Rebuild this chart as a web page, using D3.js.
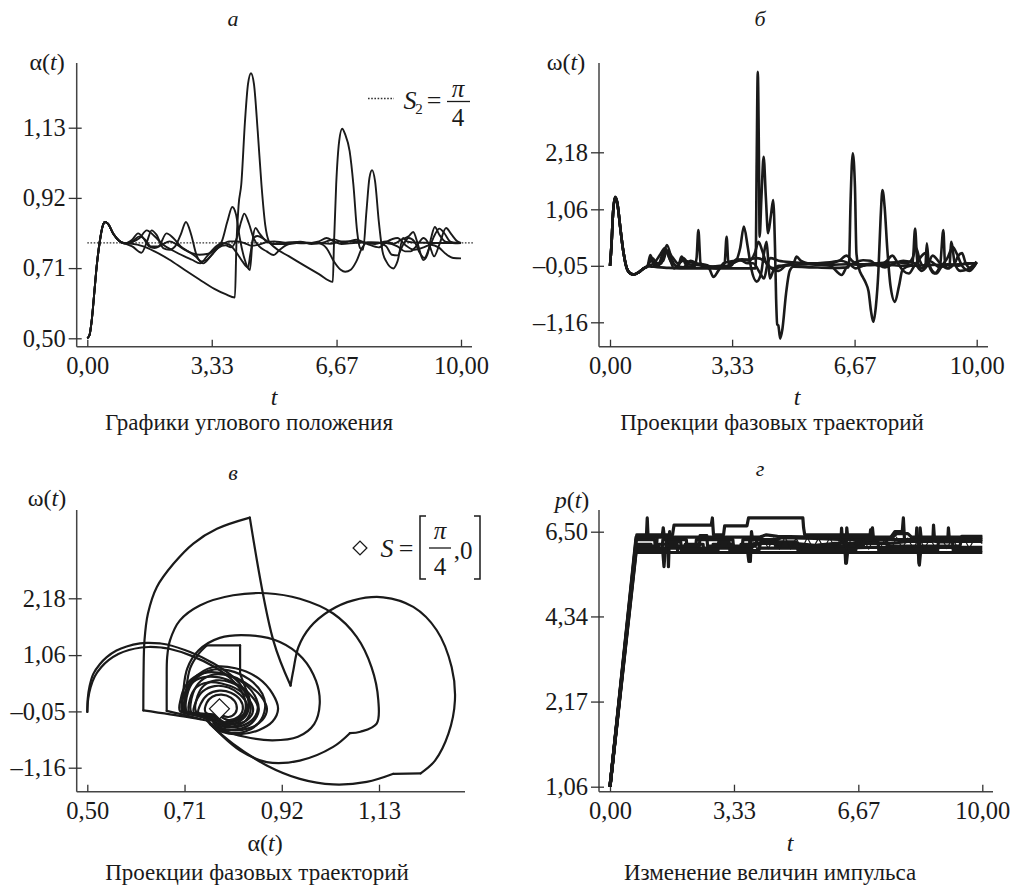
<!DOCTYPE html>
<html><head><meta charset="utf-8">
<script src="https://cdn.jsdelivr.net/npm/d3@7"></script>
<style>
body{margin:0;background:#fff}
svg{display:block}
text{font-family:"Liberation Serif","Times New Roman",serif;fill:#1a1a1a}
</style>
</head><body>
<svg id="chart" width="1015" height="886"></svg>
<script>
// ---------------- DATA ----------------
const timeTicks = [0, 3.33, 6.67, 10];
const timeTickLabels = ["0,00", "3,33", "6,67", "10,00"];
const alphaTicks = [0.50, 0.71, 0.92, 1.13];
const alphaTickLabels = ["0,50", "0,71", "0,92", "1,13"];
const omegaTicks = [-1.16, -0.05, 1.06, 2.18];
const omegaTickLabels = ["–1,16", "–0,05", "1,06", "2,18"];
const pTicks = [0, 2.17, 4.34, 6.50];
const pTickLabels = ["1,06", "2,17", "4,34", "6,50"];
const targetAlpha = Math.PI / 4;
const targetOmega = 0;

// panel а: alpha(t), common start + 5 tails
const alphaStart = [[0,0.5],[0.06,0.51],[0.12,0.555],[0.19,0.64],[0.25,0.714],[0.34,0.794],[0.41,0.835],[0.47,0.848],[0.55,0.843],[0.7,0.812],[0.85,0.792],[1.0,0.784]];
const alphaTail1 = [[1.2,0.783],[1.5,0.775],[1.8,0.76],[2.2,0.735],[2.6,0.705],[3.0,0.676],[3.4,0.648],[3.7,0.632],[3.95,0.622],[3.99,0.78],[4.05,0.90],[4.12,0.96],[4.22,1.15],[4.3,1.26],[4.38,1.293],[4.46,1.26],[4.56,1.12],[4.66,0.96],[4.76,0.84],[4.86,0.79],[5.0,0.773],[5.4,0.745],[5.8,0.718],[6.2,0.692],[6.57,0.669],[6.6,0.78],[6.66,0.96],[6.74,1.09],[6.82,1.127],[6.9,1.11],[7.02,1.06],[7.12,0.96],[7.22,0.82],[7.3,0.77],[7.38,0.765],[7.47,0.88],[7.55,0.98],[7.62,1.003],[7.7,0.97],[7.8,0.85],[7.9,0.76],[8.0,0.73],[8.19,0.709],[8.3,0.73],[8.45,0.80],[8.55,0.79],[8.7,0.787],[9.0,0.786],[9.5,0.785],[10,0.785]];
const alphaTail2 = [[1.2,0.795],[1.36,0.814],[1.5,0.8],[1.65,0.775],[1.8,0.77],[2.0,0.78],[2.2,0.79],[2.4,0.78],[2.6,0.765],[2.8,0.755],[3.0,0.75],[3.2,0.752],[3.4,0.765],[3.6,0.79],[3.75,0.85],[3.88,0.893],[3.98,0.87],[4.08,0.80],[4.2,0.74],[4.35,0.704],[4.42,0.79],[4.5,0.83],[4.6,0.815],[4.8,0.79],[5.0,0.783],[5.4,0.786],[5.8,0.784],[6.2,0.79],[6.4,0.80],[6.6,0.79],[6.8,0.782],[7.2,0.786],[7.6,0.787],[8.0,0.785],[8.3,0.775],[8.5,0.76],[8.65,0.76],[8.8,0.775],[9.0,0.80],[9.15,0.78],[9.28,0.745],[9.42,0.78],[9.6,0.83],[9.75,0.81],[9.9,0.79],[10,0.785]];
const alphaTail3 = [[1.2,0.775],[1.45,0.756],[1.6,0.79],[1.72,0.823],[1.85,0.81],[2.03,0.77],[2.2,0.765],[2.35,0.775],[2.5,0.81],[2.64,0.848],[2.78,0.81],[2.92,0.75],[3.1,0.724],[3.3,0.745],[3.5,0.77],[3.7,0.778],[3.85,0.772],[4.0,0.80],[4.12,0.85],[4.2,0.873],[4.32,0.845],[4.45,0.80],[4.6,0.775],[4.8,0.76],[4.98,0.749],[5.15,0.765],[5.4,0.782],[5.8,0.786],[6.2,0.784],[6.4,0.77],[6.6,0.73],[6.78,0.705],[6.9,0.699],[7.05,0.705],[7.2,0.73],[7.35,0.77],[7.5,0.787],[7.8,0.786],[8.0,0.775],[8.15,0.75],[8.3,0.748],[8.45,0.78],[8.6,0.80],[8.75,0.79],[8.9,0.755],[9.02,0.74],[9.15,0.77],[9.3,0.81],[9.42,0.828],[9.55,0.815],[9.7,0.79],[9.85,0.784],[10,0.785]];
const alphaTail4 = [[1.2,0.79],[1.4,0.805],[1.55,0.795],[1.7,0.775],[1.9,0.775],[2.12,0.814],[2.3,0.80],[2.5,0.775],[2.7,0.76],[2.9,0.745],[3.05,0.73],[3.2,0.735],[3.4,0.76],[3.6,0.78],[3.8,0.79],[4.0,0.79],[4.2,0.785],[4.4,0.777],[4.6,0.78],[4.8,0.788],[5.0,0.79],[5.3,0.786],[5.7,0.789],[6.0,0.782],[6.3,0.786],[6.6,0.796],[6.85,0.787],[7.0,0.79],[7.2,0.795],[7.5,0.782],[7.8,0.772],[8.0,0.788],[8.3,0.80],[8.5,0.78],[8.75,0.765],[9.0,0.772],[9.2,0.78],[9.4,0.772],[9.6,0.752],[9.8,0.74],[10,0.739]];
const alphaTail5 = [[1.2,0.788],[1.4,0.8],[1.59,0.823],[1.8,0.805],[2.03,0.78],[2.3,0.762],[2.6,0.745],[2.8,0.735],[3.02,0.724],[3.2,0.745],[3.45,0.775],[3.6,0.785],[3.8,0.78],[4.0,0.755],[4.15,0.73],[4.3,0.712],[4.36,0.75],[4.45,0.80],[4.55,0.806],[4.75,0.795],[4.95,0.782],[5.3,0.782],[5.6,0.787],[6.2,0.785],[6.5,0.783],[6.8,0.79],[7.1,0.79],[7.4,0.787],[7.7,0.782],[8.0,0.79],[8.2,0.783],[8.4,0.795],[8.6,0.805],[8.72,0.818],[8.85,0.78],[8.99,0.734],[9.1,0.75],[9.2,0.80],[9.3,0.833],[9.42,0.81],[9.6,0.788],[10,0.785]];

// panel б: omega(t)
const omegaStart = [[0,-0.05],[0.04,0.35],[0.08,0.95],[0.14,1.30],[0.2,1.18],[0.28,0.7],[0.36,0.25],[0.45,-0.08],[0.55,-0.2],[0.64,-0.22],[0.78,-0.18],[0.92,-0.1],[1.02,-0.06]];
const omegaTail1 = [[1.2,-0.07],[1.6,-0.09],[2.2,-0.1],[3.0,-0.1],[3.9,-0.1],[3.97,-0.1],[4.0,2.0],[4.03,3.76],[4.06,2.2],[4.08,0.52],[4.13,1.3],[4.19,2.09],[4.25,1.3],[4.31,0.59],[4.39,0.95],[4.45,1.24],[4.5,0.3],[4.53,-0.7],[4.56,-1.2],[4.59,-1.22],[4.64,-1.48],[4.7,-1.3],[4.8,-0.6],[4.9,-0.15],[5.0,-0.07],[5.5,-0.08],[6.0,-0.09],[6.5,-0.08],[6.52,0.0],[6.56,1.2],[6.62,2.16],[6.68,1.5],[6.72,0.2],[6.78,-0.08],[6.9,-0.28],[6.97,-0.38],[7.05,-0.55],[7.12,-0.95],[7.18,-1.15],[7.25,-0.85],[7.32,-0.15],[7.38,0.9],[7.43,1.44],[7.49,1.1],[7.56,0.3],[7.65,-0.45],[7.77,-0.76],[7.88,-0.45],[7.98,-0.12],[8.2,-0.05],[8.6,-0.04],[9.0,-0.03],[9.5,-0.02],[10,0.0]];
const omegaTail2 = [[1.1,0.16],[1.22,-0.06],[1.4,0.0],[1.55,0.36],[1.7,0.05],[1.85,-0.08],[1.95,0.13],[2.1,-0.06],[2.3,-0.07],[2.36,0.1],[2.41,0.65],[2.47,0.0],[2.6,-0.07],[3.0,-0.05],[3.12,-0.04],[3.18,0.52],[3.23,0.0],[3.4,0.02],[3.55,0.3],[3.65,0.72],[3.75,0.35],[3.85,-0.1],[4.0,-0.36],[4.12,-0.2],[4.2,0.2],[4.27,0.42],[4.32,0.0],[4.36,-0.3],[4.45,-0.15],[4.6,-0.05],[5.0,-0.03],[5.5,-0.02],[6.0,-0.03],[6.5,-0.02],[7.0,-0.04],[7.5,-0.03],[8.0,-0.05],[8.25,-0.02],[8.32,0.68],[8.38,0.05],[8.5,-0.1],[8.6,-0.05],[8.64,0.39],[8.7,-0.05],[8.85,-0.2],[9.0,-0.05],[9.09,0.65],[9.14,-0.05],[9.25,-0.1],[9.31,0.42],[9.4,0.0],[9.55,-0.15],[9.75,-0.12],[10,0.03]];
const omegaTail3 = [[1.1,0.05],[1.3,-0.05],[1.5,0.28],[1.62,0.1],[1.75,-0.1],[1.9,0.0],[2.0,0.1],[2.15,-0.02],[2.5,-0.05],[2.7,-0.1],[2.82,-0.27],[2.95,-0.15],[3.1,0.0],[3.4,0.05],[3.6,0.08],[3.8,0.05],[3.95,0.2],[4.05,0.42],[4.15,0.25],[4.3,-0.05],[4.5,-0.1],[4.8,-0.03],[5.0,0.0],[5.09,0.13],[5.2,0.05],[5.5,-0.02],[6.0,-0.05],[6.32,-0.23],[6.45,-0.08],[6.7,0.02],[6.9,0.06],[7.1,0.05],[7.3,-0.05],[7.55,0.05],[7.7,0.15],[7.85,0.0],[8.0,-0.15],[8.15,-0.2],[8.3,-0.05],[8.45,0.1],[8.6,0.2],[8.75,-0.1],[8.9,-0.2],[9.05,-0.05],[9.2,0.1],[9.35,0.32],[9.45,0.2],[9.6,-0.05],[9.8,-0.15],[10,0.02]];
const omegaTail4 = [[1.15,0.1],[1.3,0.0],[1.45,0.05],[1.55,0.25],[1.7,0.12],[1.85,0.0],[2.0,0.05],[2.3,0.0],[2.6,-0.03],[2.9,-0.1],[3.2,-0.05],[3.5,0.05],[3.8,0.08],[4.0,0.1],[4.2,0.05],[4.4,-0.1],[4.6,-0.15],[4.8,-0.05],[5.2,-0.02],[5.6,0.0],[6.0,0.02],[6.3,0.05],[6.5,0.0],[6.7,-0.1],[6.9,-0.05],[7.2,0.0],[7.5,-0.08],[7.75,0.0],[8.0,0.05],[8.3,0.0],[8.5,-0.15],[8.65,-0.05],[8.8,0.15],[9.0,0.0],[9.2,-0.1],[9.4,0.0],[9.5,0.15],[9.6,0.2],[9.7,0.0],[9.85,-0.1],[10,0.02]];
const omegaTail5 = [[1.2,0.0],[1.35,0.15],[1.5,0.3],[1.65,0.05],[1.8,-0.05],[2.0,-0.08],[2.2,0.05],[2.4,-0.02],[2.7,-0.06],[3.0,-0.08],[3.3,-0.05],[3.45,0.08],[3.6,0.05],[3.75,0.0],[3.9,0.0],[4.1,-0.2],[4.2,-0.3],[4.3,0.0],[4.38,0.1],[4.6,0.05],[5.0,0.02],[5.5,0.0],[6.0,0.0],[6.25,0.05],[6.45,0.15],[6.6,0.05],[6.8,-0.02],[7.3,0.0],[7.8,0.02],[8.1,0.0],[8.25,0.1],[8.35,0.3],[8.45,0.05],[8.55,-0.05],[8.7,0.05],[9.0,-0.08],[9.2,-0.02],[9.5,-0.05],[9.7,0.0],[10,0.0]];

// panel в: phase trajectories (alpha, omega); each trajectory is a list of smooth pieces
const phaseStart1 = [[[0.5,-0.06],[0.501,0.2],[0.505,0.45],[0.513,0.69],[0.527,0.88],[0.542,1.02],[0.563,1.15],[0.585,1.23],[0.614,1.29],[0.628,1.30],[0.657,1.29],[0.672,1.27],[0.722,1.12],[0.772,0.90],[0.815,0.63],[0.837,0.40],[0.848,0.15],[0.846,-0.08],[0.83,-0.24],[0.80,-0.32],[0.775,-0.26],[0.762,-0.12]]];
const phaseStart2 = [[[0.5,-0.06],[0.502,0.2],[0.507,0.42],[0.516,0.64],[0.53,0.82],[0.546,0.96],[0.567,1.08],[0.59,1.16],[0.617,1.21],[0.632,1.22],[0.66,1.21],[0.675,1.19],[0.724,1.05],[0.772,0.84],[0.812,0.58],[0.832,0.36],[0.842,0.12],[0.838,-0.1],[0.822,-0.22],[0.795,-0.28],[0.775,-0.22]]];
const phaseLoopA = [
  [[0.758,-0.23],[0.715,-0.16],[0.621,-0.03]],
  [[0.621,-0.03],[0.6215,0.69],[0.6235,1.35],[0.631,1.88],[0.65,2.40],[0.686,2.86],[0.729,3.26],[0.78,3.55],[0.851,3.77]],
  [[0.851,3.77],[0.9017,1.35],[0.939,0.46]],
  [[0.939,0.46],[0.945,0.76],[0.956,1.22],[0.981,1.61],[1.024,1.94],[1.0745,2.14],[1.139,2.20],[1.204,2.01],[1.2547,1.55],[1.287,0.82],[1.294,0.17],[1.28,-0.49],[1.251,-1.02],[1.22,-1.27]],
  [[1.22,-1.27],[1.161,-1.28]],
  [[1.161,-1.28],[1.1035,-1.44],[1.031,-1.49],[0.959,-1.38],[0.8875,-1.115],[0.815,-0.69],[0.772,-0.36],[0.758,-0.23]]
];
const phaseLoopB = [
  [[0.745,-0.2],[0.70,-0.1],[0.6715,-0.04]],
  [[0.6715,-0.04],[0.6715,0.5],[0.6725,1.02],[0.6786,1.35],[0.700,1.745],[0.743,2.04],[0.815,2.24],[0.8875,2.28],[0.959,2.17],[1.031,1.88],[1.0818,1.42],[1.114,0.82],[1.1285,0.17],[1.125,-0.29],[1.09,-0.45],[1.067,-0.48]],
  [[1.067,-0.48],[1.031,-0.75],[0.959,-1.02],[0.8875,-1.05],[0.83,-0.82],[0.7866,-0.49],[0.765,-0.29]]
];
const phaseLoopC = [[[0.76,-0.2],[0.73,-0.1],[0.707,-0.04],[0.708,0.4],[0.716,0.8],[0.74,1.15],[0.786,1.40],[0.851,1.45],[0.916,1.32],[0.965,1.0],[0.994,0.55],[1.002,0.1],[0.99,-0.3],[0.955,-0.55],[0.9,-0.62],[0.84,-0.55],[0.795,-0.42],[0.772,-0.28]]];
const phaseLoopBox = [
  [[0.77,-0.18],[0.74,-0.1],[0.712,-0.05],[0.714,0.4],[0.722,0.8],[0.74,1.08],[0.758,1.25]],
  [[0.758,1.25],[0.83,1.25]],
  [[0.83,1.25],[0.83,0.69]],
  [[0.83,0.69],[0.84,0.45],[0.85,0.2],[0.845,-0.05],[0.825,-0.2],[0.8,-0.25]]
];
const phaseLoopD = [[[0.77,-0.2],[0.73,-0.1],[0.705,-0.05],[0.71,0.3],[0.73,0.6],[0.77,0.82],[0.82,0.8],[0.87,0.6],[0.9,0.3],[0.912,0.0],[0.9,-0.25],[0.87,-0.42],[0.83,-0.5],[0.79,-0.45],[0.765,-0.3]]];
const phaseSmall1 = [[[0.77,-0.2],[0.73,-0.12],[0.70,-0.04],[0.702,0.2],[0.71,0.42],[0.73,0.62],[0.76,0.72],[0.80,0.68],[0.84,0.52],[0.875,0.25],[0.888,0.0],[0.878,-0.22],[0.85,-0.38],[0.81,-0.42],[0.775,-0.35],[0.76,-0.22]]];
const phaseSmall2 = [[[0.77,-0.18],[0.735,-0.1],[0.71,-0.05],[0.712,0.25],[0.725,0.5],[0.75,0.62],[0.785,0.62],[0.82,0.5],[0.85,0.3],[0.868,0.05],[0.86,-0.18],[0.835,-0.33],[0.80,-0.36],[0.775,-0.28],[0.765,-0.15]]];
const phaseSmall3 = [[[0.775,-0.16],[0.74,-0.1],[0.72,-0.06],[0.722,0.2],[0.735,0.42],[0.76,0.52],[0.79,0.5],[0.825,0.38],[0.85,0.18],[0.858,-0.04],[0.845,-0.22],[0.815,-0.3],[0.79,-0.27],[0.775,-0.15]]];
const phaseSmall4 = [[[0.78,-0.15],[0.75,-0.1],[0.73,-0.07],[0.735,0.15],[0.75,0.35],[0.775,0.45],[0.805,0.42],[0.83,0.28],[0.845,0.08],[0.84,-0.12],[0.82,-0.25],[0.795,-0.26],[0.78,-0.15]]];
const phaseSmall5 = [[[0.785,-0.12],[0.76,-0.1],[0.74,-0.08],[0.745,0.1],[0.76,0.28],[0.785,0.36],[0.81,0.32],[0.83,0.18],[0.836,0.0],[0.826,-0.16],[0.805,-0.22],[0.788,-0.15]]];
const phaseSmall6 = [[[0.78,-0.22],[0.75,-0.15],[0.725,-0.08],[0.728,0.3],[0.745,0.55],[0.775,0.68],[0.81,0.64],[0.845,0.45],[0.865,0.2],[0.87,-0.05],[0.855,-0.28],[0.825,-0.4],[0.79,-0.38],[0.772,-0.25]]];
const phaseSmall7 = [[[0.79,-0.1],[0.77,-0.12],[0.755,-0.06],[0.758,0.12],[0.77,0.24],[0.79,0.28],[0.81,0.22],[0.822,0.08],[0.82,-0.08],[0.805,-0.16],[0.79,-0.12]]];
const phaseSmall8 = [[[0.775,-0.25],[0.74,-0.14],[0.715,-0.06],[0.718,0.35],[0.735,0.6],[0.765,0.76],[0.805,0.76],[0.85,0.58],[0.878,0.3],[0.884,0.02],[0.87,-0.28],[0.84,-0.45],[0.8,-0.46],[0.772,-0.33]]];
const phaseSmall9 = [[[0.78,-0.2],[0.76,-0.12],[0.735,-0.06],[0.738,0.25],[0.752,0.46],[0.778,0.56],[0.81,0.52],[0.838,0.36],[0.852,0.12],[0.85,-0.12],[0.832,-0.3],[0.8,-0.34],[0.78,-0.22]]];

// panel г: p(t)
const pSeries1 = [[0,0],[0.72,6.42],[0.98,6.42],[1.0,6.85],[1.02,6.42],[1.68,6.42],[1.72,6.67],[2.72,6.67],[2.75,6.85],[2.78,6.42],[3.05,6.42],[3.08,6.65],[3.68,6.65],[3.72,6.85],[5.18,6.85],[5.2,6.6],[5.23,6.42],[7.0,6.42],[7.05,6.6],[7.08,6.3],[7.5,6.3],[7.65,6.5],[7.85,6.5],[7.88,6.85],[7.91,6.3],[8.5,6.3],[10,6.3]];
const pSeries2 = [[0,0],[0.7,6.3],[1.2,6.3],[1.22,6.05],[1.4,6.05],[1.42,6.3],[1.55,6.3],[1.57,5.61],[1.6,6.5],[1.63,6.3],[2.05,6.3],[2.07,6.05],[2.3,6.05],[2.32,6.3],[3.3,6.3],[3.32,6.05],[3.55,6.05],[3.57,6.3],[3.75,6.3],[3.77,5.74],[3.8,6.5],[3.83,6.3],[4.5,6.3],[4.6,6.35],[5.5,6.33],[6.3,6.3],[6.33,5.7],[6.36,6.6],[6.39,6.3],[8.27,6.3],[8.3,5.7],[8.33,6.6],[8.36,6.3],[10,6.3]];
const pSeries3 = [[0,0],[0.7,6.18],[1.1,6.18],[1.12,5.97],[1.3,5.97],[1.32,6.18],[1.8,6.18],[1.82,5.97],[2.0,5.97],[2.02,6.18],[2.5,6.18],[2.52,5.97],[2.75,5.97],[2.77,6.18],[3.3,6.18],[3.32,5.97],[3.5,5.97],[3.52,6.18],[4.0,6.18],[4.02,6.08],[6.0,6.08],[7.0,6.1],[9.0,6.1],[10,6.1]];
const pSeries4 = [[0,0],[0.7,5.97],[1.42,5.97],[1.45,5.61],[1.48,5.97],[3.7,5.97],[3.73,5.74],[3.76,5.97],[6.32,5.97],[6.35,5.7],[6.38,5.97],[8.28,5.97],[8.31,5.65],[8.34,5.97],[10,5.97]];
const pSeries5 = [[0,0],[0.7,6.08],[2.0,6.08],[3.8,6.08],[3.9,6.2],[5.0,6.2],[5.5,6.15],[6.0,6.2],[6.2,6.2],[6.22,6.59],[6.25,6.2],[7.5,6.2],[8.0,6.25],[8.22,6.25],[8.24,6.6],[8.27,6.25],[8.67,6.25],[8.69,6.67],[8.72,6.25],[9.07,6.25],[9.09,6.6],[9.12,6.25],[10,6.25]];
const pSeries6 = [[0,0],[0.7,6.36],[1.4,6.36],[1.43,6.6],[1.46,6.36],[2.0,6.36],[4.0,6.36],[4.2,6.42],[4.5,6.38],[5.5,6.36],[6.5,6.36],[6.98,6.36],[7.0,6.55],[7.03,6.36],[7.6,6.36],[7.7,6.45],[8.0,6.45],[8.1,6.36],[10,6.36]];
const pSeries7 = [[0,0],[0.7,6.02],[1.5,6.02],[1.52,6.24],[1.9,6.24],[1.92,6.02],[2.9,6.02],[2.92,6.24],[3.2,6.24],[3.22,6.02],[4.0,6.02],[4.05,6.24],[5.0,6.24],[5.05,6.02],[6.6,6.02],[6.62,6.24],[7.2,6.24],[7.22,6.02],[8.8,6.02],[8.82,6.24],[9.2,6.24],[9.22,6.02],[10,6.02]];
const pSeries8 = [[0,0],[0.7,6.13],[1.25,6.13],[1.27,6.4],[1.5,6.4],[1.52,6.13],[2.4,6.13],[2.42,6.4],[2.6,6.4],[2.62,6.13],[3.9,6.13],[3.95,6.3],[4.4,6.3],[4.45,6.13],[6.8,6.13],[6.85,6.3],[7.4,6.3],[7.45,6.13],[9.4,6.13],[9.45,6.38],[10,6.38]];
const pHatch = [[3.85,6.25],[3.95,6.05],[4.1,6.35],[4.25,6.08],[4.4,6.33],[4.55,6.06],[4.7,6.36],[4.85,6.07],[5.0,6.34],[5.15,6.05],[5.3,6.35],[5.45,6.08],[5.6,6.33],[5.75,6.06],[5.9,6.35],[6.05,6.07],[6.2,6.34],[6.35,6.05],[6.5,6.36],[6.65,6.08],[6.8,6.33],[6.95,6.06],[7.1,6.35],[7.25,6.07],[7.4,6.34],[7.55,6.05],[7.7,6.35],[7.85,6.08],[8.0,6.33],[8.15,6.06],[8.3,6.36],[8.45,6.07],[8.6,6.34],[8.75,6.05],[8.9,6.35],[9.05,6.08],[9.2,6.33],[9.35,6.06],[9.5,6.35],[9.65,6.07],[9.8,6.34],[10,6.2]];

// ---------------- DRAW ----------------
const svg = d3.select("#chart");
const FONT = "Liberation Serif, Times New Roman, serif";
const INK = "#1a1a1a";
const TICK_FS = 24.5;

function drawAxes(x, y, c) {
  svg.append("line").attr("x1", c.axX).attr("x2", c.axX).attr("y1", c.axY).attr("y2", c.yTop)
    .attr("stroke", "#444").attr("stroke-width", 1.5);
  svg.append("line").attr("x1", c.axX).attr("x2", c.xEnd).attr("y1", c.axY).attr("y2", c.axY)
    .attr("stroke", "#444").attr("stroke-width", 1.5);
  const ya = d3.axisLeft(y).tickValues(c.yTicks).tickFormat((d, i) => c.yLabels[i])
    .tickSizeInner(8).tickSizeOuter(0).tickPadding(3);
  const gy = svg.append("g").attr("transform", `translate(${c.axX},0)`).call(ya);
  gy.select(".domain").remove();
  gy.attr("font-size", TICK_FS).attr("font-family", FONT).attr("color", "#333");
  gy.selectAll(".tick line").attr("x1", 5).attr("stroke-width", 1.3);
  gy.selectAll(".tick text").attr("fill", INK).style("font-size", TICK_FS + "px");
  const xa = d3.axisBottom(x).tickValues(c.xTicks).tickFormat((d, i) => c.xLabels[i])
    .tickSizeInner(-7).tickSizeOuter(0).tickPadding(10);
  const gx = svg.append("g").attr("transform", `translate(0,${c.axY})`).call(xa);
  gx.select(".domain").remove();
  gx.attr("font-size", TICK_FS).attr("font-family", FONT).attr("color", "#333");
  gx.selectAll(".tick line").attr("stroke-width", 1.3);
  gx.selectAll(".tick text").attr("fill", INK).style("font-size", TICK_FS + "px");
}

function label(x, y, parts, size, anchor) {
  const t = svg.append("text").attr("x", x).attr("y", y).style("font-size", (size || 24) + "px")
    .attr("text-anchor", anchor || "middle").attr("dominant-baseline", "central");
  parts.forEach(p => {
    t.append("tspan").text(p[0]).attr("font-style", p[1] ? "italic" : "normal");
  });
  return t;
}

// ---- Panel а ----
const xa = d3.scaleLinear().domain([0, 10]).range([87.3, 461]);
const ya = d3.scaleLinear().domain([0.5, 1.13]).range([338.3, 127.7]);
drawAxes(xa, ya, {axX: 76.7, axY: 346.7, xEnd: 472, yTop: 63,
  xTicks: timeTicks, xLabels: timeTickLabels, yTicks: alphaTicks, yLabels: alphaTickLabels});
svg.append("line").attr("x1", xa(0)).attr("x2", xa(10.32)).attr("y1", ya(targetAlpha)).attr("y2", ya(targetAlpha))
  .attr("stroke", "#333").attr("stroke-width", 1.3).attr("stroke-dasharray", "1.6,1.6");
const lineA = d3.line().x(d => xa(d[0])).y(d => ya(d[1])).curve(d3.curveMonotoneX);
[alphaTail1, alphaTail2, alphaTail3, alphaTail4, alphaTail5].forEach(tail => {
  svg.append("path").attr("d", lineA(alphaStart.concat(tail))).attr("fill", "none")
    .attr("stroke", INK).attr("stroke-width", 1.9).attr("stroke-linejoin", "round");
});
svg.append("line").attr("x1", 368).attr("x2", 394).attr("y1", 98.5).attr("y2", 98.5)
  .attr("stroke", "#333").attr("stroke-width", 1.3).attr("stroke-dasharray", "1.6,1.6");
label(410, 100, [["S", true]], 26);
label(419, 109, [["2", false]], 15);
label(434, 100, [["=", false]], 26);
label(458, 88, [["π", true]], 25);
svg.append("line").attr("x1", 447).attr("x2", 470).attr("y1", 101.5).attr("y2", 101.5).attr("stroke", INK).attr("stroke-width", 1.3);
label(458, 117, [["4", false]], 25);
label(233, 18, [["а", true]], 22);
label(47, 62, [["α(", false], ["t", true], [")", false]], 24);
label(274, 397, [["t", true]], 24);
label(249, 422, [["Графики углового положения", false]], 23);

// ---- Panel б ----
const xb = d3.scaleLinear().domain([0, 10]).range([610, 976.7]);
const yb = d3.scaleLinear().domain([-1.16, 2.18]).range([322.3, 152.3]);
drawAxes(xb, yb, {axX: 599, axY: 346.7, xEnd: 988, yTop: 63,
  xTicks: timeTicks, xLabels: timeTickLabels, yTicks: omegaTicks, yLabels: omegaTickLabels});
const lineB = d3.line().x(d => xb(d[0])).y(d => yb(d[1])).curve(d3.curveMonotoneX);
[omegaTail1, omegaTail2, omegaTail3, omegaTail4, omegaTail5].forEach(tail => {
  svg.append("path").attr("d", lineB(omegaStart.concat(tail))).attr("fill", "none")
    .attr("stroke", INK).attr("stroke-width", 2.6).attr("stroke-linejoin", "round");
});
label(760, 18, [["б", true]], 22);
label(566, 62, [["ω(", false], ["t", true], [")", false]], 24);
label(797, 397, [["t", true]], 24);
label(772, 422, [["Проекции фазовых траекторий", false]], 23);

// ---- Panel в ----
const xc = d3.scaleLinear().domain([0.5, 1.13]).range([87.3, 379]);
const yc = d3.scaleLinear().domain([-1.16, 2.18]).range([767.7, 598.3]);
drawAxes(xc, yc, {axX: 76.7, axY: 791.7, xEnd: 465, yTop: 510,
  xTicks: alphaTicks, xLabels: alphaTickLabels, yTicks: omegaTicks, yLabels: omegaTickLabels});
const lineC = d3.line().x(d => xc(d[0])).y(d => yc(d[1])).curve(d3.curveCatmullRom.alpha(0.5));
[phaseStart1, phaseStart2, phaseLoopA, phaseLoopB, phaseLoopC, phaseLoopBox, phaseLoopD,
 phaseSmall1, phaseSmall2, phaseSmall3, phaseSmall4, phaseSmall5, phaseSmall6, phaseSmall7, phaseSmall8, phaseSmall9].forEach(traj => {
  traj.forEach(piece => {
    svg.append("path").attr("d", lineC(piece)).attr("fill", "none")
      .attr("stroke", INK).attr("stroke-width", 2.2).attr("stroke-linejoin", "round").attr("stroke-linecap", "round");
  });
});
svg.append("path").attr("d", d3.symbol(d3.symbolSquare, 200)())
  .attr("transform", `translate(${xc(targetAlpha)},${yc(targetOmega)}) rotate(45)`)
  .attr("fill", "#fff").attr("stroke", INK).attr("stroke-width", 1.2);
svg.append("path").attr("d", d3.symbol(d3.symbolSquare, 95)())
  .attr("transform", "translate(360,548) rotate(45)").attr("fill", "#fff").attr("stroke", INK).attr("stroke-width", 1.3);
label(387, 548, [["S", true]], 26);
label(406, 548, [["=", false]], 26);
svg.append("path").attr("d", "M426,516 L420,516 L420,579 L426,579").attr("fill", "none").attr("stroke", INK).attr("stroke-width", 1.5);
label(440, 530, [["π", true]], 25);
svg.append("line").attr("x1", 429).attr("x2", 451).attr("y1", 548).attr("y2", 548).attr("stroke", INK).attr("stroke-width", 1.3);
label(440, 566, [["4", false]], 25);
label(463, 550, [[",0", false]], 25);
svg.append("path").attr("d", "M474,516 L480,516 L480,579 L474,579").attr("fill", "none").attr("stroke", INK).attr("stroke-width", 1.5);
label(233, 472, [["в", true]], 22);
label(47, 498, [["ω(", false], ["t", true], [")", false]], 24);
label(265, 843, [["α(", false], ["t", true], [")", false]], 24);
label(257, 872, [["Проекции фазовых траекторий", false]], 23);

// ---- Panel г ----
const xd = d3.scaleLinear().domain([0, 10]).range([610, 982.3]);
const yd = d3.scaleLinear().domain([0, 6.5]).range([786.7, 531.7]);
drawAxes(xd, yd, {axX: 599, axY: 791.7, xEnd: 993, yTop: 510,
  xTicks: timeTicks, xLabels: timeTickLabels, yTicks: pTicks, yLabels: pTickLabels});
const lineD = d3.line().x(d => xd(d[0])).y(d => yd(d[1])).curve(d3.curveLinear);
[pSeries1, pSeries2, pSeries3, pSeries4, pSeries5, pSeries6, pSeries7, pSeries8].forEach(s => {
  svg.append("path").attr("d", lineD(s)).attr("fill", "none")
    .attr("stroke", INK).attr("stroke-width", 3.2).attr("stroke-linejoin", "round");
});
svg.append("path").attr("d", lineD(pHatch)).attr("fill", "none")
  .attr("stroke", INK).attr("stroke-width", 1.2);
label(760, 468, [["г", true]], 22);
label(572, 500, [["p", true], ["(", false], ["t", true], [")", false]], 24);
label(790, 843, [["t", true]], 24);
label(770, 872, [["Изменение величин импульса", false]], 23);
</script>
</body></html>
